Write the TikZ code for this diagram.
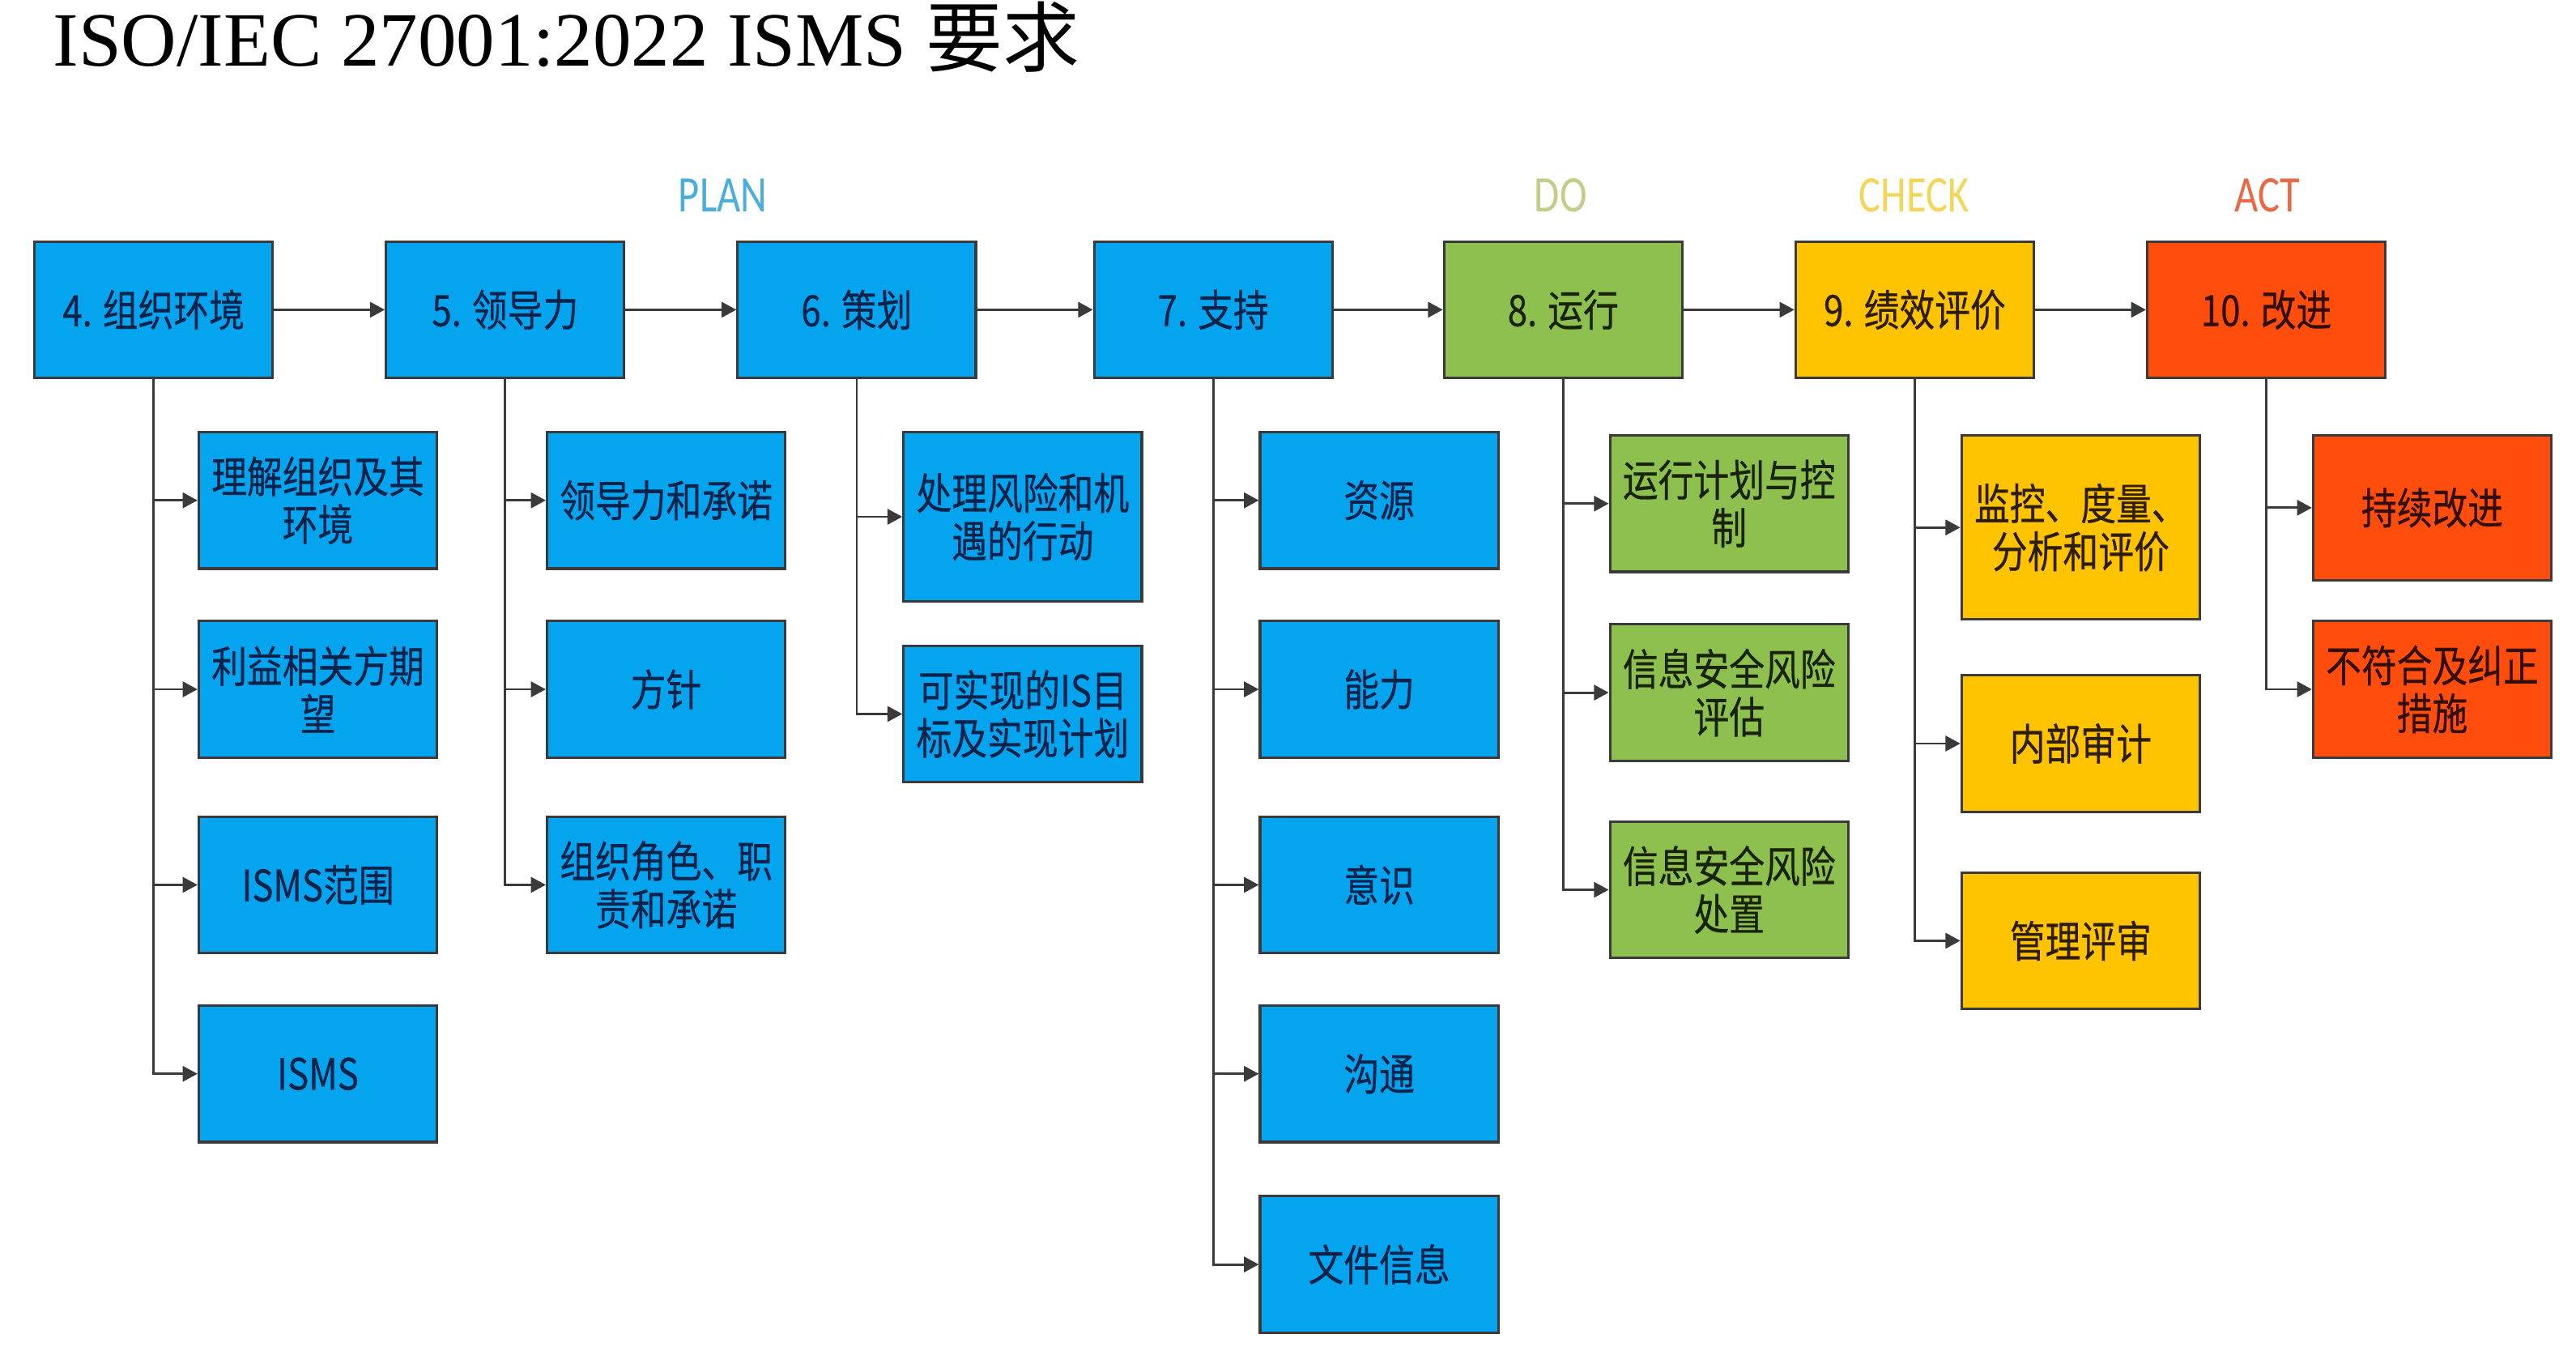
\documentclass[tikz,border=0pt]{standalone}
\usepackage{fontspec}
\setmainfont{Liberation Serif}
\newfontfamily\cjk[FakeStretch=0.82, FakeBold=0.5]{Noto Sans CJK SC}
\newfontfamily\cjktitle{Noto Sans CJK SC}
\newfontfamily\phasefont[FakeStretch=0.8]{Carlito}
\usetikzlibrary{arrows.meta}

\definecolor{planblue}{HTML}{05A4EE}
\definecolor{dogreen}{HTML}{8DC04E}
\definecolor{checkyellow}{HTML}{FFC300}
\definecolor{actred}{HTML}{FF4D0D}
\definecolor{edgegray}{HTML}{3A3A3A}
\definecolor{plantext}{HTML}{4AAEDC}
\definecolor{dotext}{HTML}{C5CC88}
\definecolor{checktext}{HTML}{F2D65A}
\definecolor{acttext}{HTML}{E56A45}

\newlength\upx
\setlength\upx{0.020287cm}

\tikzset{
  box/.style={draw=edgegray, line width=0.9pt, minimum width=145*\upx, minimum height=83*\upx,
    inner sep=0pt, align=center, font=\cjk\fontsize{15.2}{16.8}\selectfont},
  bluebox/.style={box, fill=planblue, text={rgb,255:red,10;green,35;blue,75}},
  greenbox/.style={box, fill=dogreen, text={rgb,255:red,25;green,35;blue,10}},
  yellowbox/.style={box, fill=checkyellow, text={rgb,255:red,45;green,30;blue,0}},
  redbox/.style={box, fill=actred, text={rgb,255:red,50;green,15;blue,5}},
  phase/.style={font=\phasefont\fontsize{18}{18}\selectfont, inner sep=0pt},
  link/.style={draw=edgegray, line width=0.8pt, -{Triangle[length=5.2pt,width=5.4pt]}}
}

\begin{document}
\begin{tikzpicture}[x=0.020287cm, y=-0.020287cm]
\useasboundingbox[fill=white] (0,0) rectangle (1568,830);

% title and phases
\node[anchor=base west, inner sep=0pt, font=\fontsize{27}{27}\selectfont] (title) at (32,40)
  {ISO/IEC 27001:2022 ISMS {\cjktitle 要求}};
\node[phase, text=plantext]  (plan)  at (440,119) {PLAN};
\node[phase, text=dotext]    (do)    at (950,119) {DO};
\node[phase, text=checktext] (check) at (1165,119) {CHECK};
\node[phase, text=acttext]   (act)   at (1380,119) {ACT};

% main clauses
\node[bluebox]   (c4)  at (93.5,188.5)   {4. 组织环境};
\node[bluebox]   (c5)  at (307.5,188.5)  {5. 领导力};
\node[bluebox]   (c6)  at (521.5,188.5)  {6. 策划};
\node[bluebox]   (c7)  at (738.5,188.5)  {7. 支持};
\node[greenbox]  (c8)  at (951.5,188.5)  {8. 运行};
\node[yellowbox] (c9)  at (1165.5,188.5) {9. 绩效评价};
\node[redbox]    (c10) at (1379.5,188.5) {10. 改进};

% sub clauses
\node[bluebox] (c4a) at (193.5,304.5) {理解组织及其\\环境};
\node[bluebox] (c4b) at (193.5,419.5) {利益相关方期\\望};
\node[bluebox] (c4c) at (193.5,538.5) {ISMS范围};
\node[bluebox] (c4d) at (193.5,653.5) {ISMS};

\node[bluebox] (c5a) at (405.5,304.5) {领导力和承诺};
\node[bluebox] (c5b) at (405.5,419.5) {方针};
\node[bluebox] (c5c) at (405.5,538.5) {组织角色、职\\责和承诺};

\node[bluebox, minimum height=103*\upx] (c6a) at (622.5,314.5) {处理风险和机\\遇的行动};
\node[bluebox] (c6b) at (622.5,434.5) {可实现的IS目\\标及实现计划};

\node[bluebox] (c7a) at (839.5,304.5) {资源};
\node[bluebox] (c7b) at (839.5,419.5) {能力};
\node[bluebox] (c7c) at (839.5,538.5) {意识};
\node[bluebox] (c7d) at (839.5,653.5) {沟通};
\node[bluebox] (c7e) at (839.5,769.5) {文件信息};

\node[greenbox] (c8a) at (1052.5,306.5) {运行计划与控\\制};
\node[greenbox] (c8b) at (1052.5,421.5) {信息安全风险\\评估};
\node[greenbox] (c8c) at (1052.5,541.5) {信息安全风险\\处置};

\node[yellowbox, minimum height=112*\upx] (c9a) at (1266.5,321) {监控、度量、\\分析和评价};
\node[yellowbox] (c9b) at (1266.5,452.5) {内部审计};
\node[yellowbox] (c9c) at (1266.5,572.5) {管理评审};

\node[redbox, minimum height=88*\upx] (c10a) at (1480.5,309) {持续改进};
\node[redbox] (c10b) at (1480.5,419.5) {不符合及纠正\\措施};

% clause to clause
\foreach \u/\v in {c4/c5, c5/c6, c6/c7, c7/c8, c8/c9, c9/c10}
  \draw[link] (\u) -- (\v);

% clause to sub clause
\foreach \u/\v in {c4/c4a, c4/c4b, c4/c4c, c4/c4d, c5/c5a, c5/c5b, c5/c5c, c6/c6a, c6/c6b,
                   c7/c7a, c7/c7b, c7/c7c, c7/c7d, c7/c7e, c8/c8a, c8/c8b, c8/c8c,
                   c9/c9a, c9/c9b, c9/c9c, c10/c10a, c10/c10b}
  \draw[link] (\u.south) |- (\v.west);

\end{tikzpicture}
\end{document}
